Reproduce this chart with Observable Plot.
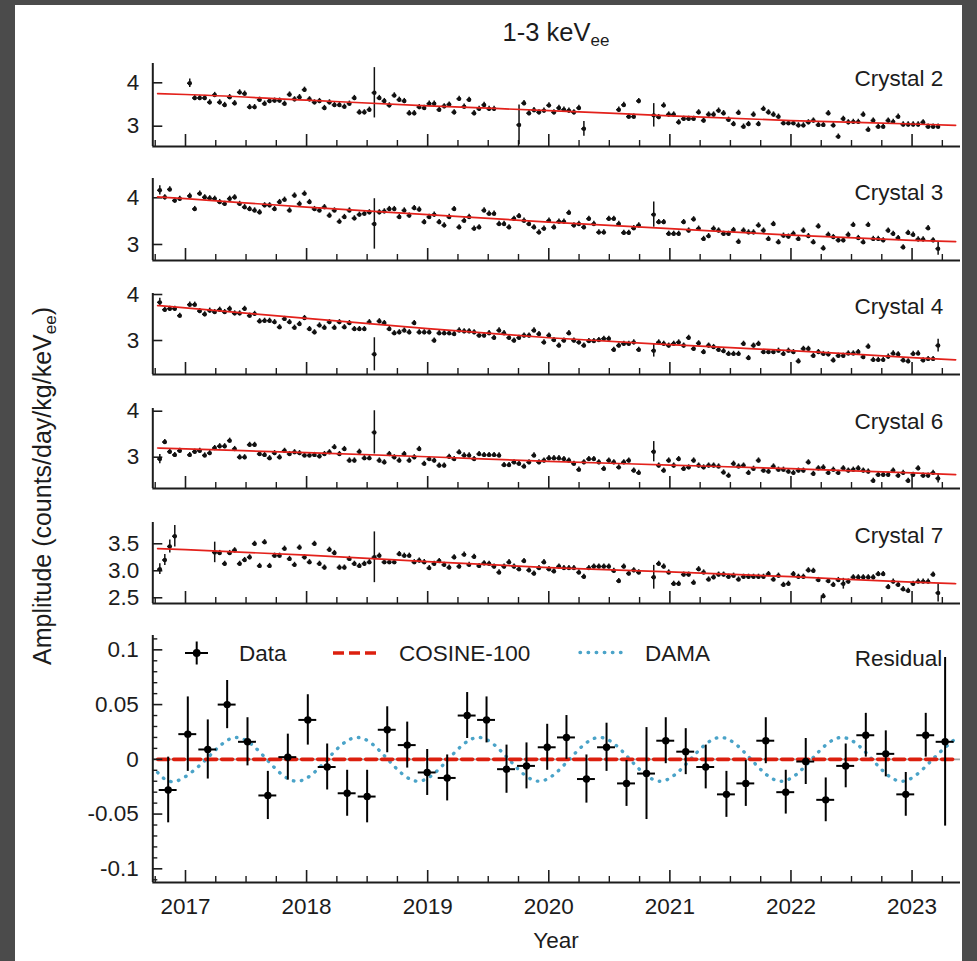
<!DOCTYPE html>
<html>
<head>
<meta charset="utf-8">
<script src="https://cdn.jsdelivr.net/npm/d3@7"></script>
<script src="https://cdn.jsdelivr.net/npm/@observablehq/plot@0.6"></script>
<style>
  html, body { margin:0; padding:0; width:977px; height:961px; overflow:hidden; background:#4b4b4b; }
  #sheet { position:absolute; left:15px; top:5px; width:947px; height:956px; background:#ffffff; }
  #root { position:absolute; left:0; top:0; width:977px; height:961px; }
</style>
</head>
<body>
<div id="sheet"></div>
<div id="root"></div>
<script>
// ---------------- DATA ----------------
// 15-day bins: time of bin i = T0 + i*STEP (years)
const T0 = 2016.788;
const STEP = 0.0412;

const crystal2 = [
  null,null,null,null,null,null,
  3.99,3.65,3.65,3.65,3.55,3.72,3.55,3.49,3.67,3.53,
  3.78,3.75,3.44,3.44,3.61,3.52,3.58,3.59,3.59,3.52,
  3.73,3.62,3.67,3.84,3.62,3.55,3.58,3.42,3.55,3.49,
  3.49,3.45,3.52,3.65,3.32,3.32,3.38,3.77,3.65,3.58,
  3.48,3.71,3.61,3.58,3.30,3.30,3.44,3.42,3.52,3.52,
  3.38,3.46,3.50,3.32,3.63,3.45,3.61,3.30,3.40,3.49,
  3.40,3.40,
  null,null,null,null,
  3.03,3.53,3.30,3.37,3.32,3.36,3.48,3.32,3.42,3.38,3.36,3.32,3.42,2.94,
  null,null,null,null,null,null,
  3.38,3.49,3.22,3.22,3.58,
  null,null,
  3.25,3.21,3.48,3.27,3.27,3.09,3.17,3.17,3.17,3.32,
  3.13,3.27,3.27,3.36,3.30,3.15,3.05,3.31,2.99,3.05,
  3.27,3.05,3.40,3.32,3.27,3.22,3.07,3.07,3.07,3.02,
  3.02,3.09,3.13,3.03,3.03,3.30,3.02,2.76,3.17,3.09,
  3.10,3.10,3.27,2.92,3.13,2.99,2.99,3.13,3.10,3.22,
  3.04,3.04,3.04,3.04,3.09,2.99,2.99,2.99
];
const crystal3 = [
  4.16,4.01,4.18,3.94,3.98,null,
  4.04,3.76,4.09,4.01,3.99,3.98,3.91,3.87,3.98,4.01,
  3.87,3.80,3.76,3.73,3.69,3.84,3.84,3.76,3.91,3.96,
  3.73,4.05,3.87,4.09,3.91,3.76,3.73,3.80,3.62,3.73,
  3.49,3.59,3.73,3.56,3.64,3.66,3.69,3.44,3.69,3.71,
  3.76,3.76,3.59,3.73,3.62,3.78,3.75,3.48,3.59,3.64,
  3.48,3.41,3.59,3.76,3.37,3.51,3.59,3.34,3.37,3.73,
  3.66,3.66,3.44,3.44,3.37,3.55,3.61,3.51,3.44,3.37,
  3.26,
  3.34,3.51,3.37,3.49,3.49,3.68,3.41,3.44,3.37,3.55,
  3.44,3.26,3.26,3.55,3.55,3.44,3.25,3.25,3.35,3.41,
  null,null,
  3.64,
  3.48,3.48,3.23,3.23,3.23,3.48,3.30,3.54,3.34,3.12,
  3.18,3.34,3.30,3.23,3.23,3.31,3.06,3.30,3.26,3.26,
  3.41,3.30,3.12,3.44,3.05,3.19,3.17,3.23,3.12,3.30,
  3.18,3.05,3.39,2.92,3.21,3.16,3.09,3.09,3.21,3.42,
  3.14,3.05,3.42,3.12,3.12,3.09,3.30,3.23,3.14,2.94,
  3.25,3.21,3.11,3.11,3.35,3.09,2.91
];
const crystal4 = [
  3.83,3.67,3.69,3.69,3.54,null,
  3.78,3.78,3.64,3.57,3.65,3.62,3.67,3.62,3.69,3.59,
  3.59,3.69,3.54,3.58,3.42,3.43,3.43,3.40,3.29,3.47,
  3.40,3.28,3.36,3.49,3.25,3.18,3.33,3.28,3.40,3.28,
  3.40,3.29,3.38,3.25,3.25,3.25,3.40,2.70,3.42,3.38,
  3.25,3.16,3.18,3.22,3.18,3.38,3.18,3.18,3.18,3.00,
  3.16,3.16,3.16,3.14,3.22,3.20,3.20,3.18,3.11,3.11,
  3.16,3.06,3.22,3.16,3.06,3.00,3.06,3.11,3.11,3.22,
  3.14,
  2.96,3.11,3.01,2.89,3.00,3.16,3.00,2.96,2.89,2.99,
  2.99,3.01,3.04,3.04,2.80,2.89,2.93,2.93,2.96,2.80,
  null,null,
  2.78,2.96,2.93,2.89,2.93,2.96,2.89,3.06,2.82,2.94,
  2.75,2.89,2.86,2.80,2.77,2.71,2.71,2.71,2.93,2.62,
  2.89,2.93,2.75,2.75,2.75,2.78,2.71,2.78,2.75,2.55,
  2.82,2.82,2.67,2.75,2.71,2.70,2.57,2.67,2.67,2.72,
  2.72,2.75,2.64,2.87,2.58,2.58,2.58,2.65,2.72,2.70,
  2.57,2.55,2.71,2.72,2.57,2.60,2.60,2.89
];
const crystal6 = [
  2.96,3.33,3.12,3.05,3.14,null,
  3.05,3.12,3.14,3.04,3.09,3.20,3.24,3.24,3.36,3.18,
  3.00,3.00,3.27,3.27,3.07,3.05,2.98,3.09,3.00,3.14,
  3.07,3.11,3.09,3.04,3.04,3.05,3.02,3.07,3.11,3.22,
  3.07,3.18,2.93,2.93,3.12,2.98,2.98,3.54,2.93,2.89,
  3.07,3.00,2.93,3.07,2.93,3.00,3.18,2.86,2.96,2.93,
  2.82,2.82,3.01,2.96,3.11,3.04,3.04,2.96,3.07,3.05,
  3.05,3.05,3.04,2.83,2.83,2.89,2.86,2.80,2.89,3.04,
  2.89,
  2.93,2.98,2.98,2.98,2.96,2.93,2.86,2.73,2.89,2.96,
  2.96,2.89,2.75,2.93,2.89,2.78,2.89,2.93,2.71,2.66,
  null,null,
  3.12,2.82,2.71,2.93,2.82,2.96,2.75,2.78,2.93,2.82,
  2.78,2.82,2.82,2.80,2.67,2.60,2.86,2.80,2.82,2.66,
  2.75,2.93,2.71,2.69,2.80,2.73,2.73,2.69,2.66,2.71,
  2.71,2.89,2.64,2.76,2.78,2.66,2.73,2.66,2.76,2.71,
  2.73,2.76,2.71,2.69,2.49,2.62,2.62,2.62,2.71,2.60,
  2.66,2.49,2.62,2.76,2.60,2.60,2.66,2.54
];
const crystal7 = [
  3.03,3.20,3.45,3.64,
  null,null,null,null,null,null,null,
  3.34,3.33,3.13,3.33,3.38,3.13,3.20,3.25,3.50,3.09,
  3.53,3.09,3.28,3.28,3.41,3.22,3.11,3.43,3.25,3.16,
  3.50,3.13,3.06,3.39,3.33,3.06,3.06,3.22,3.13,3.09,
  3.13,3.16,3.25,3.28,3.16,3.16,3.16,3.31,3.28,3.28,
  3.16,3.19,3.16,3.05,3.13,3.18,3.11,3.06,3.25,3.08,
  3.30,3.11,3.26,3.09,3.14,3.13,3.08,2.97,3.08,3.16,
  3.08,3.03,3.18,3.01,2.95,3.05,
  3.16,3.03,2.99,3.08,3.05,3.05,3.05,2.97,2.89,3.05,
  3.08,3.08,3.08,3.08,3.00,2.81,3.08,2.95,3.01,2.97,
  null,null,
  2.88,3.13,3.08,2.97,2.76,2.76,2.93,2.93,2.78,3.03,
  2.97,2.84,2.88,2.93,2.93,2.89,2.91,2.84,2.89,2.89,
  2.89,2.89,2.89,2.94,2.84,2.91,2.74,2.76,2.94,2.89,
  2.89,3.01,3.00,2.83,2.53,2.81,2.74,2.83,2.76,2.80,
  2.88,2.88,2.88,2.88,2.88,2.94,2.94,2.70,2.80,2.74,
  2.66,2.63,2.76,2.80,2.80,2.80,2.93,2.59
];
// typical error of a bin, and the bins with larger errors [bin, error]
const typicalErr = [0.06, 0.055, 0.055, 0.055, 0.047];
const crystal2BigErr = [[6,0.10],[43,0.58],[72,0.46],[85,0.17],[99,0.27]];
const crystal3BigErr = [[0,0.10],[43,0.54],[99,0.27],[156,0.14]];
const crystal4BigErr = [[0,0.09],[43,0.36],[99,0.14],[156,0.14]];
const crystal6BigErr = [[0,0.10],[43,0.47],[99,0.22],[156,0.10]];
const crystal7BigErr = [[0,0.10],[1,0.10],[2,0.12],[3,0.20],[11,0.19],[43,0.47],[99,0.22],[137,0.10],[156,0.17]];

// fitted decay curves [year, rate]
const fit2 = [[2016.77,3.75],[2017,3.73],[2018,3.60],[2019,3.47],[2020,3.36],[2021,3.24],[2022,3.13],[2023,3.05],[2023.36,3.02]];
const fit3 = [[2016.77,4.02],[2017,3.98],[2018,3.80],[2019,3.64],[2020,3.48],[2021,3.34],[2022,3.20],[2023,3.09],[2023.36,3.06]];
const fit4 = [[2016.77,3.76],[2017,3.71],[2018,3.48],[2019,3.26],[2020,3.06],[2021,2.91],[2022,2.78],[2023,2.63],[2023.36,2.58]];
const fit6 = [[2016.77,3.20],[2017,3.18],[2018,3.10],[2019,3.01],[2020,2.91],[2021,2.83],[2022,2.75],[2023,2.66],[2023.36,2.62]];
const fit7 = [[2016.77,3.41],[2017,3.39],[2018,3.29],[2019,3.17],[2020,3.06],[2021,2.98],[2022,2.89],[2023,2.79],[2023.36,2.76]];

const crystalNames = ["Crystal 2","Crystal 3","Crystal 4","Crystal 6","Crystal 7"];
const crystalTicks = [[3,4],[3,4],[3,4],[3,4],[2.5,3.0,3.5]];
const crystalTickLabels = [["3","4"],["3","4"],["3","4"],["3","4"],["2.5","3.0","3.5"]];

// residual (60-day bins)
const resTime = [2016.857,2017.019,2017.184,2017.344,2017.512,2017.680,2017.845,2018.010,2018.170,2018.335,
  2018.500,2018.666,2018.831,2018.996,2019.161,2019.326,2019.486,2019.651,2019.816,2019.987,
  2020.146,2020.311,2020.477,2020.642,2020.807,2020.966,2021.131,2021.296,2021.467,2021.627,
  2021.792,2021.957,2022.122,2022.287,2022.452,2022.618,2022.783,2022.948,2023.113,2023.273];
const resValue = [-0.028,0.023,0.009,0.050,0.016,-0.033,0.002,0.036,-0.007,-0.031,
  -0.034,0.027,0.013,-0.012,-0.017,0.040,0.036,-0.009,-0.006,0.011,
  0.020,-0.018,0.011,-0.022,-0.013,0.017,0.007,-0.007,-0.032,-0.022,
  0.017,-0.030,-0.002,-0.037,-0.006,0.022,0.005,-0.032,0.022,0.016];
const resError = [0.030,0.034,0.027,0.022,0.022,0.022,0.021,0.023,0.021,0.021,
  0.024,0.021,0.021,0.021,0.021,0.021,0.021,0.022,0.021,0.021,
  0.020,0.022,0.022,0.021,0.042,0.021,0.021,0.020,0.021,0.021,
  0.021,0.020,0.021,0.020,0.020,0.020,0.021,0.020,0.020,0.077];
const resHalfBin = 0.074;
const cosineModel = [[2016.77,0],[2023.36,0]];
const damaModel = [[2016.77,-0.012],[2016.92,-0.02],[2017.17,0],[2017.42,0.02],[2017.67,0],[2017.92,-0.02],
  [2018.17,0],[2018.42,0.02],[2018.67,0],[2018.92,-0.02],[2019.17,0],[2019.42,0.02],[2019.67,0],[2019.92,-0.02],
  [2020.17,0],[2020.42,0.02],[2020.67,0],[2020.92,-0.02],[2021.17,0],[2021.42,0.02],[2021.67,0],[2021.92,-0.02],
  [2022.17,0],[2022.42,0.02],[2022.67,0],[2022.92,-0.02],[2023.17,0],[2023.36,0.019]];
const resTicks = [-0.1,-0.05,0,0.05,0.1];
const resTickLabels = ["-0.1","-0.05","0","0.05","0.1"];
const years = [2017,2018,2019,2020,2021,2022,2023];
const yearLabels = ["2017","2018","2019","2020","2021","2022","2023"];

// ---------------- LAYOUT ----------------
const FONT = "'Liberation Sans', Arial, Helvetica, sans-serif";
const INK = "#1c1c1c";
const W = 977, ML = 152.3, MR = 17;
const X_DOMAIN = [2016.73, 2023.40];
const INNER_W = W - ML - MR;
const quarters = d3.range(0, 27).map(k => 2016.75 + k * 0.25).filter(q => Math.abs(q - Math.round(q)) > 1e-6);
const resMinor = d3.range(-11, 12).map(k => k / 100).filter(v => Math.abs(v * 20 - Math.round(v * 20)) > 1e-6);

const frames = [
  {top: 63,  bottom: 146, domain: [2.532, 4.445], dy: 22},
  {top: 178, bottom: 260, domain: [2.657, 4.413], dy: 21},
  {top: 293, bottom: 374, domain: [2.261, 4.022], dy: 20},
  {top: 408, bottom: 488, domain: [2.320, 4.059], dy: 20},
  {top: 522, bottom: 603, domain: [2.394, 3.894], dy: 20}
];
const series = [crystal2, crystal3, crystal4, crystal6, crystal7];
const bigErrs = [crystal2BigErr, crystal3BigErr, crystal4BigErr, crystal6BigErr, crystal7BigErr];
const fits = [fit2, fit3, fit4, fit6, fit7];

const root = document.getElementById("root");

function place(svg, top) {
  svg.style.position = "absolute";
  svg.style.left = "0px";
  svg.style.top = top + "px";
  root.appendChild(svg);
}

function frameMarks(H, domain) {
  return [
    Plot.tickX(years, {insetTop: H - 12, stroke: INK, strokeWidth: 1.6}),
    Plot.tickX(quarters, {insetTop: H - 6, stroke: INK, strokeWidth: 1.4}),
    Plot.ruleX([X_DOMAIN[0]], {stroke: INK, strokeWidth: 2}),
    Plot.ruleY([domain[0]], {stroke: INK, strokeWidth: 2})
  ];
}

series.forEach((vals, k) => {
  const f = frames[k];
  const H = f.bottom - f.top;
  const mt = 8, mb = 8;
  const big = new Map(bigErrs[k]);
  const rows = [];
  vals.forEach((v, i) => {
    if (v == null) return;
    rows.push({t: T0 + i * STEP, v, e: big.has(i) ? big.get(i) : typicalErr[k]});
  });
  const labMap = new Map(crystalTicks[k].map((t, j) => [t, crystalTickLabels[k][j]]));
  const svg = Plot.plot({
    width: W, height: H + mt + mb,
    marginTop: mt, marginBottom: mb, marginLeft: ML, marginRight: MR,
    x: {domain: X_DOMAIN, axis: null},
    y: {domain: f.domain},
    style: {fontFamily: FONT, fontSize: "22.5px", color: INK, background: "transparent", overflow: "visible"},
    marks: [
      ...frameMarks(H, f.domain),
      Plot.tickY(crystalTicks[k], {insetRight: INNER_W - 10, stroke: INK, strokeWidth: 1.6}),
      Plot.axisY(crystalTicks[k], {tickSize: 0, tickPadding: 13.5, fontSize: 22.5, label: null, tickFormat: d => labMap.get(d)}),
      Plot.ruleX(rows, {x: "t", y1: d => d.v - d.e, y2: d => d.v + d.e, stroke: "#111", strokeWidth: 1.5}),
      Plot.ruleY(rows, {y: "v", x1: d => d.t - STEP * 0.45, x2: d => d.t + STEP * 0.45, stroke: "#111", strokeWidth: 1.5}),
      Plot.dot(rows, {x: "t", y: "v", r: 2.2, fill: "#111", stroke: null}),
      Plot.line(fits[k], {x: d => d[0], y: d => d[1], stroke: "#e3211b", strokeWidth: 1.7, curve: "monotone-x"}),
      Plot.text([crystalNames[k]], {frameAnchor: "top-right", dx: -17.3, dy: f.dy, lineAnchor: "bottom", textAnchor: "end", fontSize: 22.5, fill: INK})
    ]
  });
  place(svg, f.top - mt);
});

// residual panel
(function () {
  const top = 635, bottom = 882, H = bottom - top, mt = 8, mb = 45;
  const domain = [-0.1125, 0.1131];
  const rows = resTime.map((t, i) => ({t, v: resValue[i], e: resError[i]}));
  const labMap = new Map(resTicks.map((t, j) => [t, resTickLabels[j]]));
  const yearMap = new Map(years.map((y, j) => [y, yearLabels[j]]));
  const svg = Plot.plot({
    width: W, height: H + mt + mb,
    marginTop: mt, marginBottom: mb, marginLeft: ML, marginRight: MR,
    x: {domain: X_DOMAIN},
    y: {domain},
    style: {fontFamily: FONT, fontSize: "22.5px", color: INK, background: "transparent", overflow: "visible"},
    marks: [
      Plot.ruleY([0], {stroke: "#a3a3a3", strokeWidth: 1.6}),
      Plot.line(damaModel, {x: d => d[0], y: d => d[1], stroke: "#4aa3c8", strokeWidth: 3.4, strokeDasharray: "0.5,7.6", strokeLinecap: "round", curve: "natural"}),
      Plot.line(cosineModel, {x: d => d[0], y: d => d[1], stroke: "#dc1f0e", strokeWidth: 3.6, strokeDasharray: "11,5"}),
      ...frameMarks(H, domain),
      Plot.tickY(resTicks, {insetRight: INNER_W - 10, stroke: INK, strokeWidth: 1.6}),
      Plot.tickY(resMinor, {insetRight: INNER_W - 5, stroke: INK, strokeWidth: 1.4}),
      Plot.axisY(resTicks, {tickSize: 0, tickPadding: 14, fontSize: 22.5, label: null, tickFormat: d => labMap.get(d)}),
      Plot.axisX(years, {tickSize: 0, tickPadding: 15.4, fontSize: 22.5, label: null, tickFormat: d => yearMap.get(d)}),
      Plot.ruleX(rows, {x: "t", y1: d => d.v - d.e, y2: d => d.v + d.e, stroke: "#000", strokeWidth: 2}),
      Plot.ruleY(rows, {y: "v", x1: d => d.t - resHalfBin, x2: d => d.t + resHalfBin, stroke: "#000", strokeWidth: 2}),
      Plot.dot(rows, {x: "t", y: "v", r: 3.7, fill: "#000", stroke: null}),
      Plot.text(["Residual"], {frameAnchor: "top-right", dx: -18.3, dy: 30, lineAnchor: "bottom", textAnchor: "end", fontSize: 22.5, fill: INK})
    ]
  });
  place(svg, top - mt);
})();

// titles, axis labels and legend
(function () {
  const svg = d3.create("svg").attr("width", W).attr("height", 961)
    .style("position", "absolute").style("left", "0px").style("top", "0px")
    .style("font-family", FONT).style("fill", INK).style("pointer-events", "none");
  // title
  const title = svg.append("text").attr("x", 556).attr("y", 41).attr("text-anchor", "middle").attr("font-size", 25.5);
  title.append("tspan").text("1-3 keV");
  title.append("tspan").attr("font-size", 17).attr("dy", 5).text("ee");
  // x label
  svg.append("text").attr("x", 556).attr("y", 948).attr("text-anchor", "middle").attr("font-size", 22.5).text("Year");
  // y label
  const yl = svg.append("text").attr("transform", "translate(51,486) rotate(-90)").attr("text-anchor", "middle").attr("font-size", 25);
  yl.append("tspan").text("Amplitude (counts/day/kg/keV");
  yl.append("tspan").attr("font-size", 17).attr("dy", 5).text("ee");
  yl.append("tspan").attr("dy", -5).text(")");
  // legend
  const g = svg.append("g");
  g.append("line").attr("x1", 185).attr("x2", 208).attr("y1", 653).attr("y2", 653).attr("stroke", "#000").attr("stroke-width", 2);
  g.append("line").attr("x1", 196.7).attr("x2", 196.7).attr("y1", 641.5).attr("y2", 664.5).attr("stroke", "#000").attr("stroke-width", 2);
  g.append("circle").attr("cx", 196.7).attr("cy", 653).attr("r", 3.9).attr("fill", "#000");
  g.append("text").attr("x", 239).attr("y", 661).attr("font-size", 22.5).text("Data");
  g.append("line").attr("x1", 333).attr("x2", 381).attr("y1", 653).attr("y2", 653).attr("stroke", "#dc1f0e").attr("stroke-width", 3.6).attr("stroke-dasharray", "11,5");
  g.append("text").attr("x", 399).attr("y", 661).attr("font-size", 22.5).text("COSINE-100");
  g.append("line").attr("x1", 580).attr("x2", 626).attr("y1", 652.5).attr("y2", 652.5).attr("stroke", "#4aa3c8").attr("stroke-width", 3.4).attr("stroke-dasharray", "0.5,7.6").attr("stroke-linecap", "round");
  g.append("text").attr("x", 645).attr("y", 661).attr("font-size", 22.5).text("DAMA");
  root.appendChild(svg.node());
})();
</script>
</body>
</html>
